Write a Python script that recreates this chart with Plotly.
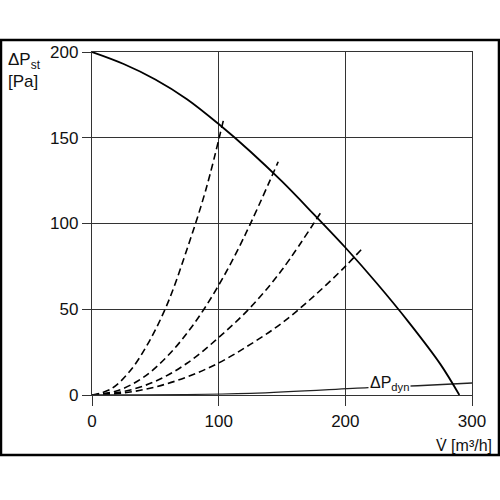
import plotly.graph_objects as go

# fan characteristic (static pressure vs volume flow)
fan_v = [0, 25, 50, 75, 100, 125, 150, 175, 200, 225, 250, 275, 290]
fan_p = [200, 193, 184, 172.5, 158, 142, 124.5, 105.5, 86, 65, 42.5, 18, 0]

# system resistance curves (dashed)
sys1_v = [0, 15, 30, 45, 60, 75, 90, 104]
sys1_p = [0, 3.5, 14, 31, 54, 85, 120, 161]
sys2_v = [0, 20, 40, 60, 80, 100, 120, 147]
sys2_p = [0, 2.5, 10, 23, 41, 64, 92, 136]
sys3_v = [0, 25, 50, 75, 100, 125, 150, 182]
sys3_p = [0, 2, 8, 18.5, 33.5, 51, 73, 108]
sys4_v = [0, 25, 50, 75, 100, 125, 150, 175, 200, 214]
sys4_p = [0, 1.2, 4.7, 10.5, 18.7, 29.5, 42, 57.5, 75, 86]

# dynamic pressure line
dyn_v = [0, 125, 218, 257, 300]
dyn_p = [0, 1, 4.3, 5.4, 7]

x_ticks = [0, 100, 200, 300]
y_ticks = [0, 50, 100, 150, 200]

fig = go.Figure()

for v, p in [(sys1_v, sys1_p), (sys2_v, sys2_p), (sys3_v, sys3_p), (sys4_v, sys4_p)]:
    fig.add_trace(go.Scatter(x=v, y=p, mode="lines", line_shape="spline",
                             line=dict(color="black", width=1.6, dash="7px,4px")))

fig.add_trace(go.Scatter(x=dyn_v, y=dyn_p, mode="lines", line_shape="spline",
                         line=dict(color="#222", width=1.3)))
fig.add_trace(go.Scatter(x=fan_v, y=fan_p, mode="lines", line_shape="spline",
                         line=dict(color="black", width=1.8)))

font = dict(family="Liberation Sans, Arial, sans-serif", size=17, color="#111")

axis = dict(showgrid=True, gridcolor="#333", gridwidth=1.4, ticks="outside",
            tickcolor="#333", tickwidth=1.4, showline=True, linecolor="#333",
            linewidth=1.4, mirror=True, zeroline=False, tickfont=font)

fig.update_xaxes(range=[0, 300], tickvals=x_ticks, ticklen=10, **axis)
fig.update_yaxes(range=[0, 200], tickvals=y_ticks, ticklen=9, **axis)

fig.add_annotation(x=235, y=7, xref="x", yref="y", text="ΔP<sub>dyn</sub>",
                   showarrow=False, bgcolor="white", font=dict(font, size=16),
                   borderpad=1)
fig.add_annotation(x=-0.226, y=1.012, xref="paper", yref="paper",
                   text="ΔP<sub>st</sub><br>[Pa]", showarrow=False,
                   xanchor="left", yanchor="top", align="left", font=font)
fig.add_annotation(x=1.058, y=-0.146, xref="paper", yref="paper",
                   text="V̇ [m³/h]", showarrow=False, xanchor="right",
                   yanchor="middle", font=dict(font, size=16))

# outer frame
fig.add_shape(type="rect", xref="paper", yref="paper", x0=-0.2395, x1=1.071,
              y0=-0.175, y1=1.035, line=dict(color="black", width=2.5))

fig.update_layout(width=500, height=500, showlegend=False,
                  plot_bgcolor="white", paper_bgcolor="white",
                  margin=dict(l=92, r=28, t=52, b=105))

fig.write_html("out.html", config={"displayModeBar": False},
               post_script="document.body.style.margin='0';")
